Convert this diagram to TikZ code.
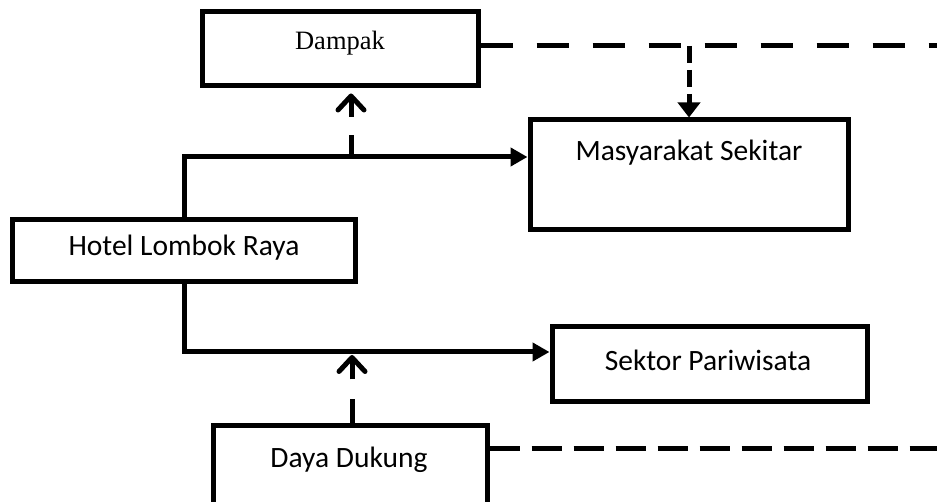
\documentclass[tikz,border=0pt]{standalone}
\usepackage{fontspec}
\setmainfont{Carlito}
\newfontfamily\serifx{Liberation Serif}
\usetikzlibrary{arrows.meta}
\begin{document}
\begin{tikzpicture}[x=1pt,y=-1pt,line width=5pt,
  box/.style={draw,line width=5pt,rectangle,inner sep=0pt},
  lbl/.style={inner sep=0pt,font=\fontsize{29.5}{33}\selectfont},
  serlbl/.style={inner sep=0pt,font=\serifx\fontsize{26.5}{30}\selectfont},
  solidarrow/.style={-{Triangle[length=17pt,width=18pt]}},
  barb/.style={-{Straight Barb[length=14pt,width=26pt,line cap=round,line join=round]}},
  topdash/.style={dash pattern=on 32pt off 24pt},
  botdash/.style={dash pattern=on 30pt off 12pt}]
\useasboundingbox (0,0) rectangle (937,502);
\clip (0,0) rectangle (937,502);
% boxes
\node[box,minimum width=276pt,minimum height=74pt] (dampak) at (340,49) {};
\node[serlbl] (dampakT) at (340,43) {Dampak};
\node[box,minimum width=318pt,minimum height=110pt] (masy) at (689,175) {};
\node[lbl] (masyT) at (689,153) {Masyarakat Sekitar};
\node[box,minimum width=343pt,minimum height=62pt] (hotel) at (184,251) {};
\node[lbl] (hotelT) at (184,248) {Hotel Lombok Raya};
\node[box,minimum width=315pt,minimum height=75pt] (sektor) at (709.5,364.5) {};
\node[lbl] (sektorT) at (708,360) {Sektor Pariwisata};
\node[box,minimum width=274pt,minimum height=110pt] (daya) at (350,480) {};
\node[lbl] (dayaT) at (349,460) {Daya Dukung};
% coordinates
\coordinate (top) at (351,157);
\coordinate (bot) at (352,352);
\coordinate (r1) at (937,46);
\coordinate (br) at (689,46);
\coordinate (r2) at (937,448);
% solid connectors
\draw[solidarrow] (hotel.north) |- (top -| masy.west);
\draw[solidarrow] (hotel.south) |- (bot -| sektor.west);
% dashed arrows into junctions
\draw[barb,dash pattern=on 22pt off 18pt on 40pt] (top) -- ([yshift=-5pt]dampak.south -| top);
\draw[barb,dash pattern=on 23pt off 20pt on 40pt] (daya.north -| bot) -- ([yshift=-3pt]bot);
% long dashed lines
\draw[topdash] (r1 -| dampak.east) -- (r1);
\draw[dash pattern=on 17pt off 7pt,-{Triangle[length=15pt,width=22pt]}] (br) -- (masy.north);
\draw[botdash] (r2 -| daya.east) -- (r2);
\end{tikzpicture}
\end{document}
